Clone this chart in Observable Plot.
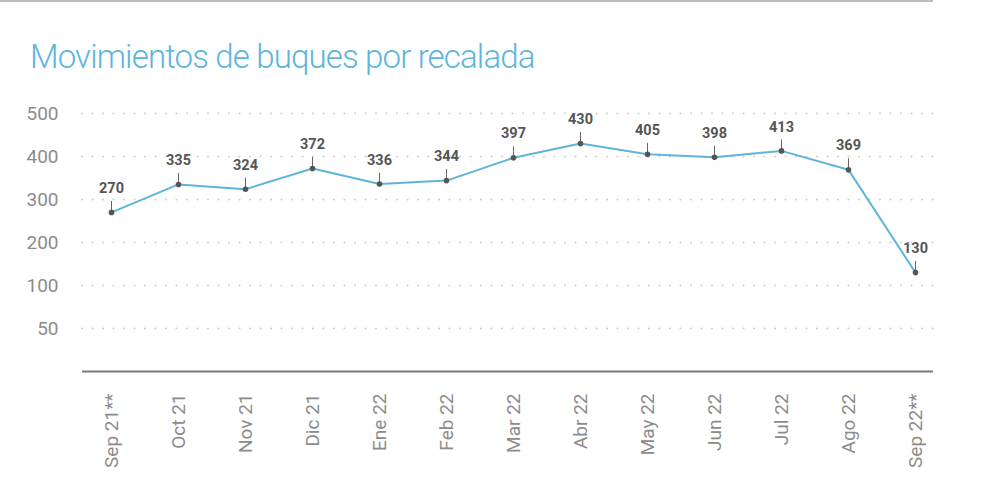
<!DOCTYPE html>
<html>
<head>
<meta charset="utf-8">
<script src="https://cdn.jsdelivr.net/npm/d3@7"></script>
<script src="https://cdn.jsdelivr.net/npm/@observablehq/plot@0.6"></script>
<style>
  html, body { margin: 0; padding: 0; background: #fff; }
  body { width: 981px; height: 483px; overflow: hidden; font-family: Roboto, sans-serif; }
  #header { position: relative; height: 90px; width: 981px; }
  #topline { position: absolute; left: 0; top: 0; width: 933px; height: 2px; background: #bdbdbd; }
  #title { position: absolute; left: 30px; top: 40px; margin: 0; font-size: 33px; line-height: 33px;
           font-weight: 300; color: #5db5db; letter-spacing: -0.85px; white-space: nowrap; }
</style>
</head>
<body>
<div id="header"><div id="topline"></div><div id="title">Movimientos de buques por recalada</div></div>
<div id="chart"></div>
<script>
const months = ["Sep 21**","Oct 21","Nov 21","Dic 21","Ene 22","Feb 22","Mar 22","Abr 22","May 22","Jun 22","Jul 22","Ago 22","Sep 22**"];
const values = [270, 335, 324, 372, 336, 344, 397, 430, 405, 398, 413, 369, 130];
const yTicks = [500, 400, 300, 200, 100, 0];
const yTickLabels = ["500", "400", "300", "200", "100", "50"];
const yDomain = [-100, 500];

const data = months.map((m, i) => ({month: m, value: values[i]}));
const labelOf = new Map(yTicks.map((t, i) => [t, yTickLabels[i]]));

const chart = Plot.plot({
  width: 981,
  height: 393,
  marginTop: 23,
  marginBottom: 112,
  marginLeft: 82,
  marginRight: 48,
  style: {fontFamily: "Roboto, sans-serif", color: "#8c8c8c", background: "#fff"},
  x: {type: "point", domain: months, range: [110, 915], padding: 0},
  y: {domain: yDomain},
  marks: [
    Plot.ruleY(yTicks, {stroke: "#cdcdcd", strokeWidth: 2, strokeDasharray: "0,10.5", strokeLinecap: "round"}),
    Plot.ruleY([yDomain[0]], {stroke: "#7a7a7a", strokeWidth: 2}),
    Plot.axisY({ticks: yTicks, tickFormat: d => labelOf.get(d), tickSize: 0, tickPadding: 24, fontSize: 19, label: null}),
    Plot.axisX({tickRotate: -90, tickSize: 0, tickPadding: 22, fontSize: 19, label: null}),
    Plot.line(data, {x: "month", y: "value", stroke: "#5db5db", strokeWidth: 2}),
    Plot.ruleX(data, {x: "month", y1: "value", y2: "value", insetTop: -11, stroke: "#666", strokeWidth: 1}),
    Plot.dot(data, {x: "month", y: "value", r: 2.8, fill: "#555"}),
    Plot.text(data, {x: "month", y: "value", text: d => String(d.value), dy: -24, fontSize: 14.5, fontWeight: "bold", fill: "#555"})
  ]
});
document.getElementById("chart").appendChild(chart);
</script>
</body>
</html>
